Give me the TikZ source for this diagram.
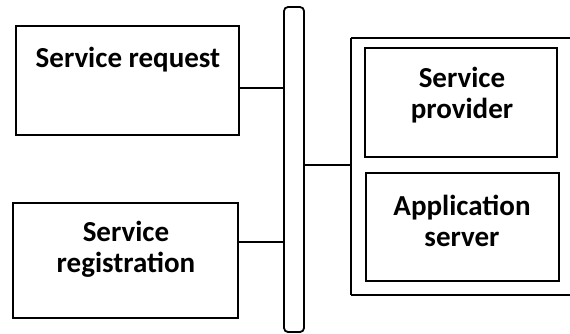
\documentclass[tikz,border=0pt]{standalone}
\usepackage{fontspec}
\setmainfont{Carlito}
\begin{document}
\begin{tikzpicture}[x=1pt,y=-1pt,
  box/.style={draw,line width=1.8pt,rectangle,inner sep=0pt},
  lbl/.style={font=\bfseries\fontsize{29}{31}\selectfont,align=center,inner sep=0pt},
  wire/.style={line width=1.8pt}]
\useasboundingbox (0,0) rectangle (570,333);
% client-side boxes
\node[box,minimum width=223pt,minimum height=109pt] (req) at (127.5,80.5) {};
\node[box,minimum width=225pt,minimum height=115pt] (reg) at (125.5,260.5) {};
% labels are anchored at the baseline of their last line
\node[lbl,anchor=base] (reqt) at (128,67) {Service request};
\node[lbl,anchor=base] (regt) at (126,272) {Service\\registration};
% vertical bus
\node[box,rounded corners=4pt,minimum width=20pt,minimum height=325pt] (bus) at (294,169.5) {};
% provider container, open on the right
\coordinate (ctl) at (351,38);
\coordinate (cbl) at (351,295);
\draw[line width=2.6pt] (570,38) -- (ctl);
\draw[line width=2.6pt] (570,295) -- (cbl);
\draw[wire] (ctl) -- (cbl);
\node[box,minimum width=192pt,minimum height=109pt] (prov) at (461,102.5) {};
\node[box,minimum width=193pt,minimum height=108pt] (app) at (462.5,227) {};
\node[lbl,anchor=base] (provt) at (462,118) {Service\\provider};
\node[lbl,anchor=base] (appt) at (462,246) {Application\\server};
% connectors
\coordinate (cin) at (351,165);
\draw[wire] (req.east |- 0,88) -- (bus.west |- 0,88);
\draw[wire] (reg.east |- 0,242) -- (bus.west |- 0,242);
\draw[wire] (bus.east |- cin) -- (cin);
\end{tikzpicture}
\end{document}
